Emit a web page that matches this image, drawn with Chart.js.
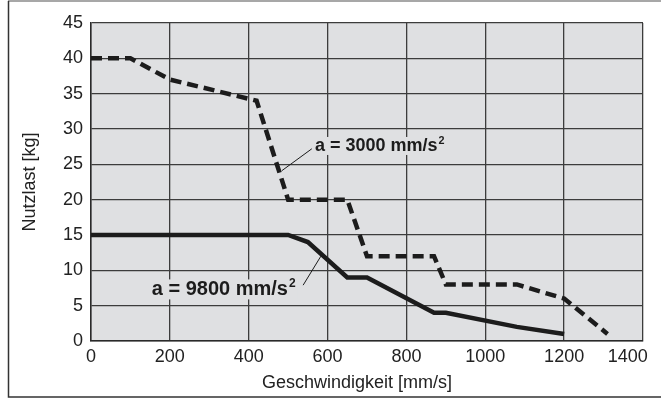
<!DOCTYPE html>
<html>
<head>
<meta charset="utf-8">
<script src="https://cdn.jsdelivr.net/npm/chart.js@4/dist/chart.umd.min.js"></script>
<style>
  html, body { margin: 0; padding: 0; background: #fff; }
  #wrap { width: 661px; height: 398px; }
</style>
</head>
<body>
<div id="wrap"><canvas id="c" width="661" height="398"></canvas></div>
<script>
// Axis ticks
const speedTicks = [0, 200, 400, 600, 800, 1000, 1200, 1400];
const loadTicks = [0, 5, 10, 15, 20, 25, 30, 35, 40, 45];

// Payload curve for a = 3000 mm/s² (dashed)
const speed3000 = [0, 100, 200, 420, 500, 650, 700, 870, 900, 1080, 1200, 1310];
const load3000  = [40, 40, 37, 34, 20, 20, 12, 12, 8, 8, 6, 1];

// Payload curve for a = 9800 mm/s² (solid)
const speed9800 = [0, 500, 550, 650, 700, 870, 900, 1080, 1200];
const load9800  = [15, 15, 14, 9, 9, 4, 4, 2, 1];

// Curve labels
const curveLabels = ['a = 3000 mm/s', 'a = 9800 mm/s'];

const FONT = '"Liberation Sans", Arial, Helvetica, sans-serif';
const PLOT_BG = '#dfe0e2';
const INK = '#1c1c1c';

function toPoints(xs, ys) {
  return xs.map((x, i) => ({ x: x, y: ys[i] }));
}

const frameAndLabels = {
  id: 'frameAndLabels',
  beforeDraw(chart) {
    const { ctx, chartArea: a } = chart;
    ctx.save();
    ctx.fillStyle = '#ffffff';
    ctx.fillRect(0, 0, chart.width, chart.height);
    ctx.fillStyle = PLOT_BG;
    ctx.fillRect(a.left, a.top, a.right - a.left, a.bottom - a.top);
    // outer frame (open on the right)
    ctx.lineWidth = 1.5;
    ctx.strokeStyle = '#8a8a8a';
    ctx.beginPath(); ctx.moveTo(8, 1); ctx.lineTo(chart.width, 1); ctx.stroke();
    ctx.strokeStyle = '#333333';
    ctx.beginPath(); ctx.moveTo(8.5, 1); ctx.lineTo(8.5, 397); ctx.lineTo(chart.width, 397); ctx.stroke();
    ctx.restore();
  },
  afterDraw(chart) {
    const { ctx } = chart;
    ctx.save();
    ctx.fillStyle = '#222';
    ctx.font = '18px ' + FONT;
    ctx.textAlign = 'center';
    ctx.textBaseline = 'middle';
    ctx.fillText('Geschwindigkeit [mm/s]', 357, 383);
    ctx.translate(30, 182);
    ctx.rotate(-Math.PI / 2);
    ctx.fillText('Nutzlast [kg]', 0, 0);
    ctx.restore();
  },
  afterDatasetsDraw(chart) {
    const { ctx, scales: { x, y } } = chart;
    const notes = [
      { text: curveLabels[0], size: 18, tx: 568, ty: 27.6, from: [560, 27.2], to: [484, 24.1] },
      { text: curveLabels[1], size: 20, tx: 154, ty: 7.3, from: [538, 7.9], to: [583, 12.0] }
    ];
    ctx.save();
    notes.forEach(n => {
      // leader line
      ctx.strokeStyle = INK;
      ctx.lineWidth = 1;
      ctx.beginPath();
      ctx.moveTo(x.getPixelForValue(n.from[0]), y.getPixelForValue(n.from[1]));
      ctx.lineTo(x.getPixelForValue(n.to[0]), y.getPixelForValue(n.to[1]));
      ctx.stroke();
      // label on a plot-coloured backing
      const px = x.getPixelForValue(n.tx);
      const py = y.getPixelForValue(n.ty);
      ctx.font = 'bold ' + n.size + 'px ' + FONT;
      const w = ctx.measureText(n.text).width;
      const supSize = n.size * 0.6;
      ctx.font = 'bold ' + supSize + 'px ' + FONT;
      const ws = ctx.measureText('2').width;
      ctx.fillStyle = PLOT_BG;
      ctx.fillRect(px - 2, py - n.size * 0.5, w + ws + 5, n.size * 1.0);
      ctx.fillStyle = INK;
      ctx.textAlign = 'left';
      ctx.textBaseline = 'middle';
      ctx.font = 'bold ' + n.size + 'px ' + FONT;
      ctx.fillText(n.text, px, py);
      ctx.font = 'bold ' + supSize + 'px ' + FONT;
      ctx.fillText('2', px + w + 1, py - n.size * 0.28);
    });
    ctx.restore();
  }
};

const lastSpeed = speedTicks[speedTicks.length - 1];

new Chart(document.getElementById('c'), {
  type: 'scatter',
  data: {
    datasets: [
      {
        label: curveLabels[0] + '²',
        data: toPoints(speed3000, load3000),
        showLine: true,
        borderColor: INK,
        borderWidth: 4.5,
        borderDash: [11, 6],
        borderCapStyle: 'butt',
        pointRadius: 0,
        tension: 0,
        fill: false
      },
      {
        label: curveLabels[1] + '²',
        data: toPoints(speed9800, load9800),
        showLine: true,
        borderColor: INK,
        borderWidth: 4.5,
        pointRadius: 0,
        tension: 0,
        fill: false
      }
    ]
  },
  options: {
    responsive: false,
    animation: false,
    devicePixelRatio: 1,
    layout: { padding: { top: 23, right: 18, bottom: 0, left: 0 } },
    plugins: { legend: { display: false }, tooltip: { enabled: false } },
    scales: {
      x: {
        type: 'linear',
        min: speedTicks[0],
        max: lastSpeed,
        afterBuildTicks: s => { s.ticks = speedTicks.map(v => ({ value: v })); },
        afterFit: s => { s.height = 57; s.paddingLeft = 0; s.paddingRight = 0; },
        ticks: {
          color: '#222',
          font: { family: FONT, size: 18 },
          padding: 5,
          maxRotation: 0,
          // the last label is kept inside the canvas edge
          callback: v => v === lastSpeed ? String(v) + '\u2003\u2002\u2009' : String(v)
        },
        grid: { color: '#3c3c3c', lineWidth: 1.3, drawTicks: false },
        border: { color: '#2a2a2a', width: 1.5 }
      },
      y: {
        type: 'linear',
        min: loadTicks[0],
        max: loadTicks[loadTicks.length - 1],
        afterBuildTicks: s => { s.ticks = loadTicks.map(v => ({ value: v })); },
        afterFit: s => { s.width = 91; s.paddingTop = 0; s.paddingBottom = 0; },
        ticks: { color: '#222', font: { family: FONT, size: 18 }, padding: 8, callback: v => String(v) },
        grid: { color: '#3c3c3c', lineWidth: 1.3, drawTicks: false },
        border: { color: '#2a2a2a', width: 1.5 }
      }
    }
  },
  plugins: [frameAndLabels]
});
</script>
</body>
</html>
